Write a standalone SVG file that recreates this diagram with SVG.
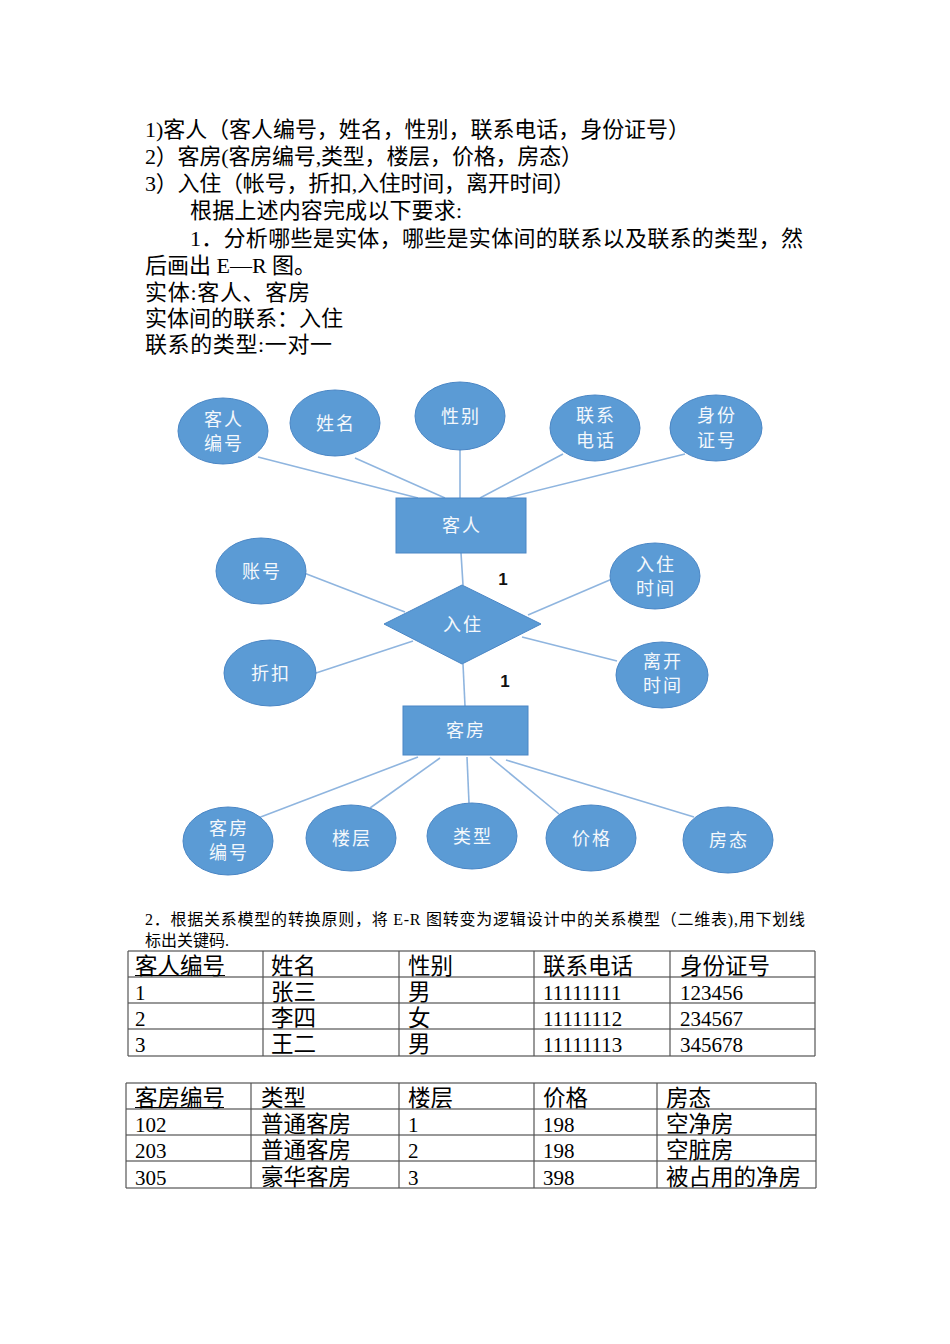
<svg xmlns="http://www.w3.org/2000/svg" width="950" height="1344" viewBox="0 0 950 1344">
<style>
.doc{font-family:"Liberation Serif","Noto Sans CJK SC",serif;font-size:22px;fill:#000}
.small{font-size:16px}
.tb{font-family:"Liberation Serif","Noto Sans CJK SC",serif;font-size:21px;fill:#000}
.tb .c{font-size:22.5px}
.shape{fill:#5B9BD5;stroke:#4A86C5;stroke-width:1}
.lbl{font-family:"Noto Sans CJK SC","Liberation Sans",sans-serif;font-size:18px;fill:#F4F8FC;text-anchor:middle;letter-spacing:2px}
.card{font-family:"Liberation Sans","Noto Sans CJK SC",sans-serif;font-size:17px;font-weight:bold;fill:#111;text-anchor:middle}
.conn line{stroke:#8FB5DF;stroke-width:1.6}
.grid line{stroke:#333;stroke-width:1.2}
.grid line.v{stroke:#555}
</style>
<rect width="950" height="1344" fill="#fff"/>
<g id="text-intro" class="doc">
<text x="145" y="137" textLength="545" lengthAdjust="spacing">1)客人（客人编号，姓名，性别，联系电话，身份证号）</text>
<text x="145" y="164" textLength="438" lengthAdjust="spacing">2）客房(客房编号,类型，楼层，价格，房态）</text>
<text x="145" y="191" textLength="430" lengthAdjust="spacing">3）入住（帐号，折扣,入住时间，离开时间）</text>
<text x="190" y="218" textLength="272" lengthAdjust="spacing">根据上述内容完成以下要求:</text>
<text x="190" y="246" textLength="613" lengthAdjust="spacing">1．分析哪些是实体，哪些是实体间的联系以及联系的类型，然</text>
<text x="145" y="273" xml:space="preserve">后画出 E—R 图。</text>
<text x="145" y="300" textLength="165" lengthAdjust="spacing">实体:客人、客房</text>
<text x="145" y="326" textLength="198" lengthAdjust="spacing">实体间的联系：入住</text>
<text x="145" y="352" textLength="187" lengthAdjust="spacing">联系的类型:一对一</text>
</g>
<g id="connectors" class="conn">
<line x1="258" y1="457" x2="418" y2="498"/>
<line x1="355" y1="458" x2="445" y2="498"/>
<line x1="460" y1="450" x2="460" y2="498"/>
<line x1="563" y1="454" x2="480" y2="498"/>
<line x1="685" y1="454" x2="507" y2="498"/>
<line x1="461" y1="553" x2="463" y2="585"/>
<line x1="304" y1="573" x2="405" y2="612"/>
<line x1="612" y1="579" x2="528" y2="615"/>
<line x1="316" y1="673" x2="413" y2="641"/>
<line x1="617" y1="661" x2="522" y2="637"/>
<line x1="463" y1="664" x2="465" y2="706"/>
<line x1="418" y1="757" x2="258" y2="818"/>
<line x1="440" y1="758" x2="370" y2="808"/>
<line x1="467" y1="757" x2="469" y2="803"/>
<line x1="490" y1="757" x2="559" y2="814"/>
<line x1="506" y1="760" x2="694" y2="817"/>
</g>
<g id="attr-kerenbianhao"><ellipse class="shape" cx="223" cy="431" rx="45" ry="33"/><text class="lbl" x="224" y="426">客人</text><text class="lbl" x="224" y="450">编号</text></g>
<g id="attr-xingming"><ellipse class="shape" cx="335" cy="423" rx="45" ry="33"/><text class="lbl" x="336" y="430">姓名</text></g>
<g id="attr-xingbie"><ellipse class="shape" cx="460" cy="416" rx="45" ry="34"/><text class="lbl" x="461" y="423">性别</text></g>
<g id="attr-lianxidianhua"><ellipse class="shape" cx="595" cy="428" rx="45" ry="33"/><text class="lbl" x="596" y="422">联系</text><text class="lbl" x="596" y="447">电话</text></g>
<g id="attr-shenfenzheng"><ellipse class="shape" cx="716" cy="428" rx="46" ry="33"/><text class="lbl" x="717" y="422">身份</text><text class="lbl" x="717" y="447">证号</text></g>
<g id="entity-keren"><rect class="shape" x="396" y="498" width="130" height="55"/><text class="lbl" x="462" y="532">客人</text></g>
<g id="attr-zhanghao"><ellipse class="shape" cx="261" cy="571" rx="45" ry="33"/><text class="lbl" x="262" y="578">账号</text></g>
<g id="attr-ruzhushijian"><ellipse class="shape" cx="655" cy="576" rx="45" ry="33"/><text class="lbl" x="656" y="571">入住</text><text class="lbl" x="656" y="595">时间</text></g>
<g id="rel-ruzhu"><polygon class="shape" points="462,585 541,624 462,664 384,624"/><text class="lbl" x="463" y="631">入住</text></g>
<g id="attr-zhekou"><ellipse class="shape" cx="270" cy="673" rx="46" ry="33"/><text class="lbl" x="271" y="680">折扣</text></g>
<g id="attr-likaishijian"><ellipse class="shape" cx="662" cy="675" rx="46" ry="33"/><text class="lbl" x="663" y="668">离开</text><text class="lbl" x="663" y="692">时间</text></g>
<g id="card-1"><text class="card" x="503" y="585">1</text></g>
<g id="card-2"><text class="card" x="505" y="687">1</text></g>
<g id="entity-kefang"><rect class="shape" x="403" y="706" width="125" height="49"/><text class="lbl" x="466" y="737">客房</text></g>
<g id="attr-kefangbianhao"><ellipse class="shape" cx="228" cy="841" rx="45" ry="34"/><text class="lbl" x="229" y="835">客房</text><text class="lbl" x="229" y="859">编号</text></g>
<g id="attr-louceng"><ellipse class="shape" cx="351" cy="838" rx="45" ry="33"/><text class="lbl" x="352" y="845">楼层</text></g>
<g id="attr-leixing"><ellipse class="shape" cx="472" cy="836" rx="45" ry="33"/><text class="lbl" x="473" y="843">类型</text></g>
<g id="attr-jiage"><ellipse class="shape" cx="591" cy="838" rx="45" ry="33"/><text class="lbl" x="592" y="845">价格</text></g>
<g id="attr-fangtai"><ellipse class="shape" cx="728" cy="840" rx="45" ry="33"/><text class="lbl" x="729" y="847">房态</text></g>
<g id="text-part2" class="doc small">
<text x="145" y="925" textLength="660" lengthAdjust="spacing">2．根据关系模型的转换原则，将 E-R 图转变为逻辑设计中的关系模型（二维表),用下划线</text>
<text x="145" y="946">标出关键码.</text>
</g>
<g id="table-keren">
<g class="grid">
<line x1="128" y1="951" x2="815" y2="951"/>
<line x1="128" y1="977" x2="815" y2="977"/>
<line x1="128" y1="1003" x2="815" y2="1003"/>
<line x1="128" y1="1029" x2="815" y2="1029"/>
<line x1="128" y1="1056" x2="815" y2="1056"/>
<line class="v" x1="128" y1="951" x2="128" y2="1056"/>
<line class="v" x1="263" y1="951" x2="263" y2="1056"/>
<line class="v" x1="399" y1="951" x2="399" y2="1056"/>
<line class="v" x1="534" y1="951" x2="534" y2="1056"/>
<line class="v" x1="670" y1="951" x2="670" y2="1056"/>
<line class="v" x1="815" y1="951" x2="815" y2="1056"/>
</g>
<g class="tb">
<text class="c" x="135" y="974">客人编号</text>
<line x1="135" y1="975.5" x2="225" y2="975.5" stroke="#000" stroke-width="1.2"/>
<text class="c" x="271" y="974">姓名</text><text class="c" x="408" y="974">性别</text><text class="c" x="543" y="974">联系电话</text><text class="c" x="680" y="974">身份证号</text>
<text x="135" y="1000">1</text><text class="c" x="271" y="1000">张三</text><text class="c" x="408" y="1000">男</text><text x="543" y="1000">11111111</text><text x="680" y="1000">123456</text>
<text x="135" y="1026">2</text><text class="c" x="271" y="1026">李四</text><text class="c" x="408" y="1026">女</text><text x="543" y="1026">11111112</text><text x="680" y="1026">234567</text>
<text x="135" y="1052">3</text><text class="c" x="271" y="1052">王二</text><text class="c" x="408" y="1052">男</text><text x="543" y="1052">11111113</text><text x="680" y="1052">345678</text>
</g>
</g>
<g id="table-kefang">
<g class="grid">
<line x1="126" y1="1083" x2="816" y2="1083"/>
<line x1="126" y1="1109" x2="816" y2="1109"/>
<line x1="126" y1="1135" x2="816" y2="1135"/>
<line x1="126" y1="1161" x2="816" y2="1161"/>
<line x1="126" y1="1188" x2="816" y2="1188"/>
<line class="v" x1="126" y1="1083" x2="126" y2="1188"/>
<line class="v" x1="251" y1="1083" x2="251" y2="1188"/>
<line class="v" x1="399" y1="1083" x2="399" y2="1188"/>
<line class="v" x1="534" y1="1083" x2="534" y2="1188"/>
<line class="v" x1="657" y1="1083" x2="657" y2="1188"/>
<line class="v" x1="816" y1="1083" x2="816" y2="1188"/>
</g>
<g class="tb">
<text class="c" x="135" y="1106">客房编号</text>
<line x1="135" y1="1107.5" x2="224" y2="1107.5" stroke="#000" stroke-width="1.2"/>
<text class="c" x="261" y="1106">类型</text><text class="c" x="408" y="1106">楼层</text><text class="c" x="543" y="1106">价格</text><text class="c" x="666" y="1106">房态</text>
<text x="135" y="1132">102</text><text class="c" x="261" y="1132">普通客房</text><text x="408" y="1132">1</text><text x="543" y="1132">198</text><text class="c" x="666" y="1132">空净房</text>
<text x="135" y="1158">203</text><text class="c" x="261" y="1158">普通客房</text><text x="408" y="1158">2</text><text x="543" y="1158">198</text><text class="c" x="666" y="1158">空脏房</text>
<text x="135" y="1185">305</text><text class="c" x="261" y="1185">豪华客房</text><text x="408" y="1185">3</text><text x="543" y="1185">398</text><text class="c" x="666" y="1185">被占用的净房</text>
</g>
</g>
</svg>
